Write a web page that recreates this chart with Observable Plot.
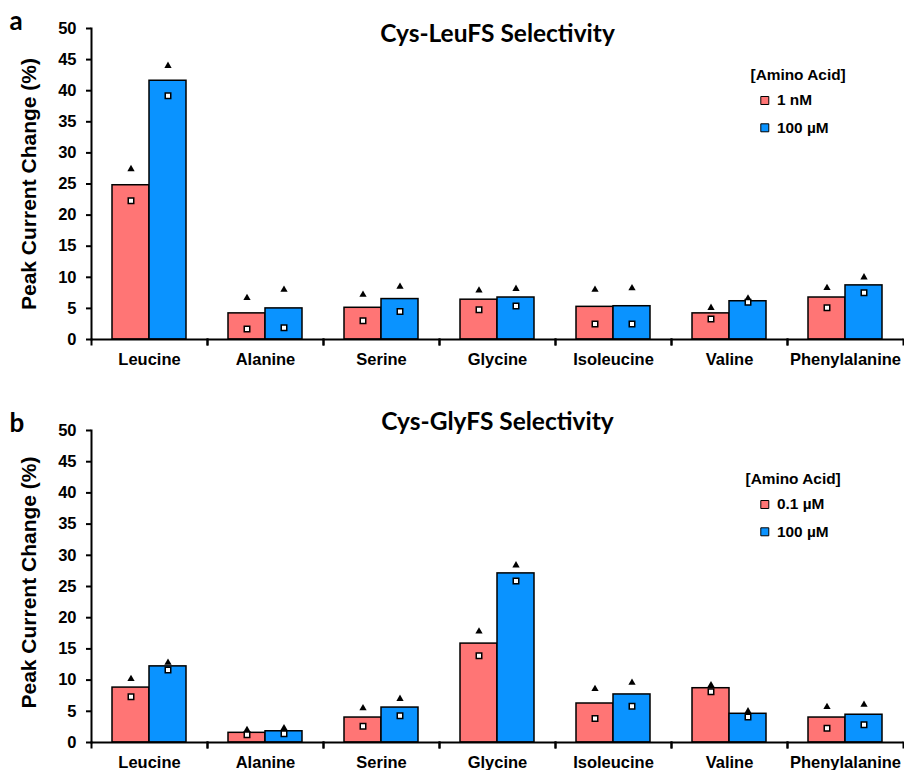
<!DOCTYPE html>
<html>
<head>
<meta charset="utf-8">
<script src="https://cdn.jsdelivr.net/npm/d3@7"></script>
<script src="https://cdn.jsdelivr.net/npm/@observablehq/plot@0.6"></script>
<style>
  html, body { margin: 0; padding: 0; background: #fff; }
  #chart svg { display: block; }
</style>
</head>
<body>
<div id="chart"></div>
<script>
// ---- data ----
const categories = ["Leucine", "Alanine", "Serine", "Glycine", "Isoleucine", "Valine", "Phenylalanine"];
const yTicks = [0, 5, 10, 15, 20, 25, 30, 35, 40, 45, 50];
const legendTitle = "[Amino Acid]";

// Panel a: Cys-LeuFS
const leuTitle = "Cys-LeuFS Selectivity";
const leuSeries = ["1 nM", "100 µM"];
const leuLow = [24.8, 4.2, 5.1, 6.4, 5.25, 4.2, 6.75];
const leuHigh = [41.6, 5.0, 6.5, 6.75, 5.35, 6.15, 8.7];
const leuLowTri = [27.4, 6.7, 7.2, 7.9, 8.0, 5.1, 8.3];
const leuHighTri = [44.0, 8.0, 8.5, 8.15, 8.25, 6.6, 10.0];
const leuLowSq = [22.3, 1.7, 3.0, 4.8, 2.5, 3.3, 5.1];
const leuHighSq = [39.2, 1.9, 4.5, 5.4, 2.5, 6.0, 7.5];

// Panel b: Cys-GlyFS
const glyTitle = "Cys-GlyFS Selectivity";
const glySeries = ["0.1 µM", "100 µM"];
const glyLow = [8.8, 1.55, 4.0, 15.85, 6.25, 8.7, 4.0];
const glyHigh = [12.2, 1.8, 5.6, 27.1, 7.7, 4.6, 4.45];
const glyLowTri = [10.2, 2.0, 5.5, 17.8, 8.6, 9.2, 5.7];
const glyHighTri = [12.8, 2.3, 7.0, 28.4, 9.6, 5.0, 6.05];
const glyLowSq = [7.35, 1.25, 2.6, 13.9, 3.85, 8.15, 2.3];
const glyHighSq = [11.6, 1.4, 4.3, 25.9, 5.8, 4.1, 2.85];

const colors = ["#ff7575", "#0a93ff"];

const FONT = "'Liberation Sans', Arial, sans-serif";
const TITLE_FONT = "Lato, 'Open Sans', sans-serif";

function panel(o) {
  const W = 904, H = 385;
  const innerH = H - o.mt - o.mb;
  const rows = categories.flatMap((c, i) => [
    {cat: c, series: o.series[0], value: o.low[i], tri: o.lowTri[i], sq: o.lowSq[i]},
    {cat: c, series: o.series[1], value: o.high[i], tri: o.highTri[i], sq: o.highSq[i]}
  ]);
  const first = categories[0], mid = categories[3], last = categories[categories.length - 1];
  const legendMarks = o.series.flatMap((s, i) => [
    Plot.dot([{cat: last, s}], {fx: "cat", fill: "s", symbol: "square", r: 4.5, stroke: "#000", strokeWidth: 1,
      frameAnchor: "top-left", dx: -22.7, dy: o.legendDy + 25 + i * 27.3}),
    Plot.text([{cat: last, s}], {fx: "cat", text: "s", frameAnchor: "top-left", textAnchor: "start", lineAnchor: "middle",
      dx: -10.5, dy: o.legendDy + 25 + i * 27.3, fontSize: 15.4, fontWeight: "bold", fontFamily: FONT})
  ]);
  return Plot.plot({
    width: W, height: H,
    marginTop: o.mt, marginBottom: o.mb, marginLeft: 90, marginRight: 1,
    style: {fontFamily: FONT, color: "#000", background: "#fff"},
    fx: {domain: categories, padding: 0, label: null},
    x: {domain: o.series, paddingInner: 0, paddingOuter: 0.558, axis: null},
    y: {domain: [0, 50], nice: false, label: null},
    color: {domain: o.series, range: colors},
    marks: [
      Plot.barY(rows, {fx: "cat", x: "series", y: "value", fill: "series", stroke: "#000", strokeWidth: 1.5}),
      Plot.dot(rows, {fx: "cat", x: "series", y: "tri", symbol: "triangle", fill: "#000", r: 2.7}),
      Plot.dot(rows, {fx: "cat", x: "series", y: "sq", symbol: "square", fill: "#fff", stroke: "#000", strokeWidth: 1.5, r: 3.1}),
      // x axis line & boundary ticks
      Plot.ruleY([0], {stroke: "#000", strokeWidth: 2}),
      Plot.frame({anchor: "left", insetTop: innerH, insetBottom: -5, stroke: "#000", strokeWidth: 2}),
      Plot.frame({anchor: "right", insetTop: innerH, insetBottom: -5, stroke: "#000", strokeWidth: 2}),
      // y axis line
      Plot.frame({anchor: "left", facetAnchor: "left", stroke: "#000", strokeWidth: 2}),
      Plot.axisY({ticks: yTicks, tickSize: 5, tickPadding: 10, fontSize: 16.5, fontWeight: "bold", label: null, strokeWidth: 2}),
      Plot.axisFx({anchor: "bottom", tickSize: 0, tickPadding: 14, fontSize: 16.5, fontWeight: "bold", label: null}),
      // y axis title
      Plot.text([{cat: first}], {fx: "cat", text: () => "Peak Current Change (%)", frameAnchor: "left", rotate: -90,
        textAnchor: "middle", lineAnchor: "middle", dx: -62, dy: o.ylabShift, fontSize: 21, fontWeight: "bold", fontFamily: FONT}),
      // panel letter
      Plot.text([{cat: first}], {fx: "cat", text: () => o.letter, frameAnchor: "top-left", textAnchor: "start", lineAnchor: "middle",
        dx: -82, dy: -6.9, fontSize: 26, fontWeight: "bold", fontFamily: TITLE_FONT}),
      // title
      Plot.text([{cat: mid}], {fx: "cat", text: () => o.title, frameAnchor: "top", lineAnchor: "middle", dy: o.titleDy,
        fontSize: 24.5, fontWeight: "bold", fontFamily: TITLE_FONT}),
      // legend title
      Plot.text([{cat: last}], {fx: "cat", text: () => legendTitle, frameAnchor: "top-left", textAnchor: "start", lineAnchor: "middle",
        dx: o.legendDx, dy: o.legendDy, fontSize: 15.4, fontWeight: "bold", fontFamily: FONT}),
      ...legendMarks
    ]
  });
}

const chart = document.getElementById("chart");
chart.append(panel({
  series: leuSeries, low: leuLow, high: leuHigh, lowTri: leuLowTri, highTri: leuHighTri,
  lowSq: leuLowSq, highSq: leuHighSq, title: leuTitle, letter: "a",
  mt: 28, mb: 46, titleDy: 5.3, legendDy: 47, legendDx: -37, ylabShift: 0
}));
chart.append(panel({
  series: glySeries, low: glyLow, high: glyHigh, lowTri: glyLowTri, highTri: glyHighTri,
  lowSq: glyLowSq, highSq: glyHighSq, title: glyTitle, letter: "b",
  mt: 45, mb: 28, titleDy: -8.3, legendDy: 49, legendDx: -42, ylabShift: -4
}));
</script>
</body>
</html>
